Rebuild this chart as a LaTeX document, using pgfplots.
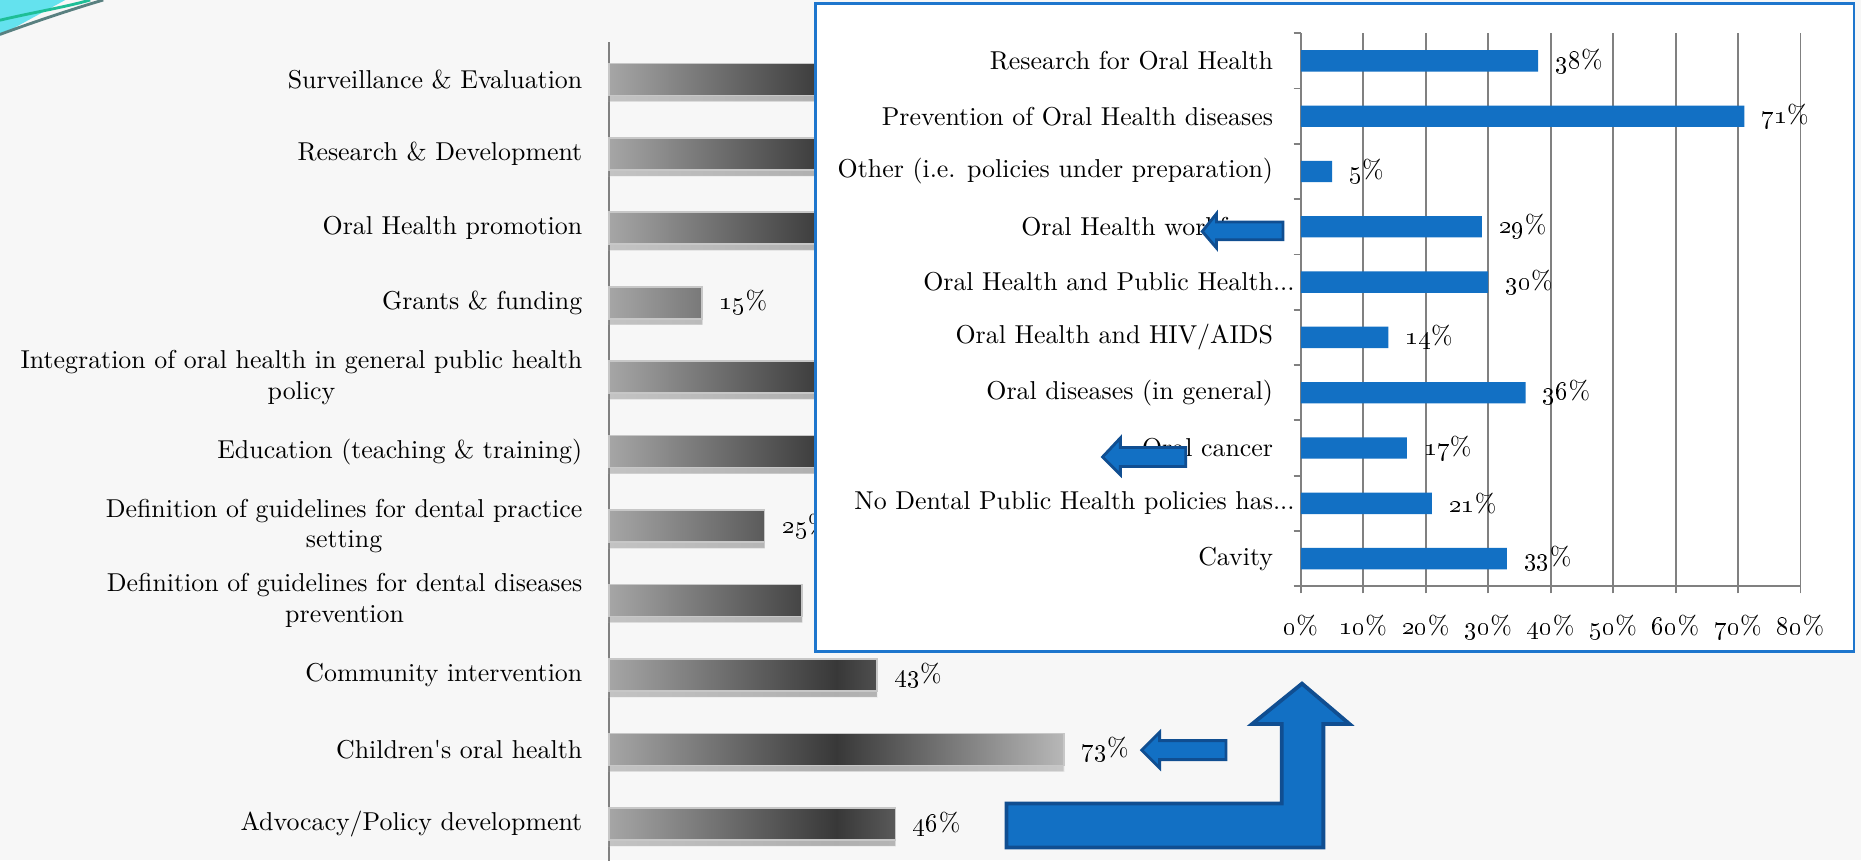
\documentclass[border=0pt]{standalone}
\usepackage{pgfplots}
\pgfplotsset{compat=1.18}
\usetikzlibrary{shadows}
\definecolor{barblue}{RGB}{18,112,196}
\definecolor{boxblue}{RGB}{30,118,205}
\definecolor{arrowedge}{RGB}{16,78,145}
\definecolor{bggray}{RGB}{247,247,247}
\definecolor{axgray}{RGB}{128,128,128}
\definecolor{swcyan}{RGB}{100,226,238}
\definecolor{swgreen}{RGB}{30,190,150}
\newcommand{\lbl}{\fontsize{10.9}{13}\selectfont}
\begin{document}
\begin{tikzpicture}
\fill[bggray] (0,0) rectangle (784pt,362.5pt);
\useasboundingbox (0,0) rectangle (784pt,362.5pt);
% decorative swoosh (top-left)
\begin{scope}[x=0.5pt,y=-0.5pt,shift={(0pt,362.5pt)}]
  \fill[swcyan] (0,0) -- (55,0) -- (0,30) -- cycle;
  \draw[swgreen, line width=1.2pt] (0,17) .. controls (30,10) and (55,6) .. (76,0);
  \draw[gray!70!teal, line width=1.2pt] (0,29) .. controls (30,18) and (60,8) .. (87,0);
\end{scope}
% ---------------- background chart ----------------
\begin{axis}[
  at={(256.5pt,-0.25pt)}, anchor=south west,
  scale only axis, width=262.5pt, height=345pt,
  xmin=0, xmax=100, ymin=-0.5, ymax=10.5,
  clip=false,
  axis x line=none, axis y line*=left,
  every outer y axis line/.append style={-},
  axis line style={-, draw=axgray, line width=0.6pt},
  ytick={0,...,10},
  yticklabels={
    {Advocacy/Policy development},
    {Children\textquotesingle s oral health},
    {Community intervention},
    {Definition of guidelines for dental diseases\\prevention},
    {Definition of guidelines for dental practice\\setting},
    {Education (teaching \& training)},
    {Integration of oral health in general public health\\policy},
    {Grants \& funding},
    {Oral Health promotion},
    {Research \& Development},
    {Surveillance \& Evaluation}},
  major tick length=0pt,
  ytick style={draw=none},
  yticklabel style={font=\lbl, align=center, inner sep=0pt, xshift=-11pt},
  grbar/.style={xbar, bar width=13.5pt, bar shift=0pt,
    draw=white!78!black, line width=0.7pt,
    left color=black!35, right color=black!28, middle color=black!78,
    drop shadow={shadow xshift=0pt, shadow yshift=-2.5pt, opacity=0.18, fill=black}},
]
% bars whose value labels are visible
\addplot[grbar, point meta=explicit symbolic,
  nodes near coords={\oldstylenums{\pgfplotspointmeta}\%},
  nodes near coords style={font=\lbl, anchor=west, inner sep=0pt, xshift=7pt, text=black}]
  coordinates {
  (46,0) [46]
  (73,1) [73]
  (43,2) [43]
  (25,4) [25]
  (15,7) [15]
  };
% bars whose labels lie behind the inset
\addplot[grbar]
  coordinates {
  (31,3)
  (65,5)
  (43,6)
  (70,8)
  (46,9)
  (40,10)
  };
\end{axis}
% ---------------- inset box ----------------
\fill[white] (343.5pt,88pt) rectangle (781pt,361pt);
\draw[boxblue, line width=1pt] (343.5pt,88pt) rectangle (781pt,361pt);
% ---------------- inset chart ----------------
\begin{axis}[
  at={(548pt,115.5pt)}, anchor=south west,
  scale only axis, width=210.5pt, height=233pt,
  xmin=0, xmax=80, ymin=-0.5, ymax=9.5,
  clip=false,
  axis x line*=bottom, axis y line*=left,
  every outer x axis line/.append style={-},
  every outer y axis line/.append style={-},
  axis line style={-, draw=axgray, line width=0.8pt},
  xmajorgrids, grid style={draw=axgray, line width=0.8pt},
  xtick={0,10,...,80},
  xticklabels={\oldstylenums{0}\%,\oldstylenums{10}\%,\oldstylenums{20}\%,\oldstylenums{30}\%,\oldstylenums{40}\%,\oldstylenums{50}\%,\oldstylenums{60}\%,\oldstylenums{70}\%,\oldstylenums{80}\%},
  ytick={-0.5,0.5,...,9.5},
  y tick label as interval,
  yticklabels={
    {Cavity},
    {No Dental Public Health policies has\rlap{...}},
    {Oral cancer},
    {Oral diseases (in general)},
    {Oral Health and HIV/AIDS},
    {Oral Health and Public Health\rlap{...}},
    {Oral Health workforce},
    {Other (i.e. policies under preparation)},
    {Prevention of Oral Health diseases},
    {Research for Oral Health}},
  tick align=outside, major tick length=3pt,
  tick style={draw=axgray, line width=0.8pt},
  yticklabel style={font=\lbl, inner sep=0pt, xshift=-8.5pt},
  xticklabel style={font=\lbl, inner sep=0pt, yshift=-9pt},
  point meta=explicit symbolic,
  nodes near coords={\oldstylenums{\pgfplotspointmeta}\%},
  nodes near coords style={font=\lbl, anchor=west, inner sep=0pt, xshift=7pt, text=black},
]
\addplot[xbar, bar width=9pt, bar shift=0pt, fill=barblue, draw=none]
  coordinates {
  (33,0) [33]
  (21,1) [21]
  (17,2) [17]
  (36,3) [36]
  (14,4) [14]
  (30,5) [30]
  (29,6) [29]
  (5,7) [5]
  (71,8) [71]
  (38,9) [38]
  };
\end{axis}
% ---------------- decorative arrows ----------------
\begin{scope}[x=0.5pt,y=-0.5pt,shift={(0pt,362.5pt)},
   arr/.style={fill=barblue, draw=arrowedge, line width=1.2pt, line join=miter}]
  \draw[arr] (1013,195) -- (1025,180) -- (1025,187) -- (1081,187) -- (1081,202) -- (1025,202) -- (1025,209) -- cycle;
  \draw[arr] (929,385) -- (944,369) -- (944,377) -- (999,377) -- (999,393) -- (944,393) -- (944,400) -- cycle;
  \draw[arr] (962,632) -- (977,617) -- (977,624) -- (1033,624) -- (1033,640) -- (977,640) -- (977,647) -- cycle;
  \draw[arr, line width=1.6pt] (848,677) -- (1080,677) -- (1080,610) -- (1055,610) -- (1097,576) -- (1137,610) -- (1115,610) -- (1115,714) -- (848,714) -- cycle;
\end{scope}
\end{tikzpicture}
\end{document}
